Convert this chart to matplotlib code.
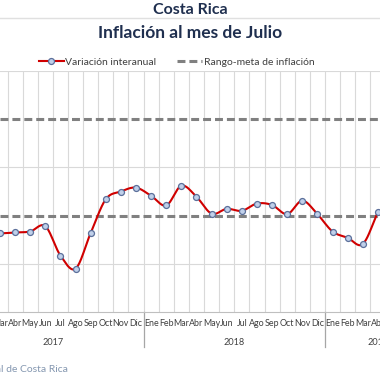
import numpy as np
import matplotlib
matplotlib.use("Agg")
import matplotlib.pyplot as plt
from matplotlib.lines import Line2D
import matplotlib.transforms as mtransforms

plt.rcParams['font.family'] = ['Lato', 'DejaVu Sans']

# months shown, from Mar 2017 to Abr 2019 (the rest is cut off in the picture)
months = ['Mar', 'Abr', 'May', 'Jun', 'Jul', 'Ago', 'Sep', 'Oct', 'Nov', 'Dic',
          'Ene', 'Feb', 'Mar', 'Abr', 'May', 'Jun', 'Jul', 'Ago', 'Sep', 'Oct', 'Nov', 'Dic',
          'Ene', 'Feb', 'Mar', 'Abr']
inflacion = [1.63, 1.65, 1.67, 1.78, 1.17, 0.90, 1.64, 2.34, 2.50, 2.58,
             2.41, 2.21, 2.62, 2.39, 2.04, 2.14, 2.10, 2.25, 2.22, 2.03, 2.31, 2.03,
             1.67, 1.54, 1.41, 2.07]
years = ['2017', '2018', '2019']
year_centers = [3.5, 15.5, 25.0]   # middle of each year's months (Ene 2017 = -2)
year_breaks = [9.5, 21.5]
meta_baja, meta_alta = 2.0, 4.0


def smooth(x, y, n=20):
    # Catmull-Rom style curve, like Excel's smoothed line
    x = np.asarray(x, float)
    y = np.asarray(y, float)
    px = np.concatenate([[2 * x[0] - x[1]], x, [2 * x[-1] - x[-2]]])
    py = np.concatenate([[2 * y[0] - y[1]], y, [2 * y[-1] - y[-2]]])
    xs, ys = [], []
    t = np.linspace(0, 1, n)
    for i in range(1, len(px) - 2):
        p0, p1, p2, p3 = (np.array([px[j], py[j]]) for j in range(i - 1, i + 3))
        c1 = p1 + (p2 - p0) / 6
        c2 = p2 - (p3 - p1) / 6
        pts = ((1 - t) ** 3)[:, None] * p1 + (3 * (1 - t) ** 2 * t)[:, None] * c1 \
            + (3 * (1 - t) * t ** 2)[:, None] * c2 + (t ** 3)[:, None] * p2
        xs.extend(pts[:, 0])
        ys.extend(pts[:, 1])
    return xs, ys


fig = plt.figure(figsize=(3.8, 3.8), dpi=100)
ax = fig.add_axes([0, 68 / 380, 1, 241 / 380])

xk = np.arange(len(months))
ax.set_xlim(0.426, 25.14)
ax.set_ylim(0, 5)

# grid
for b in np.arange(-0.5, 27):
    ax.axvline(b, color='#d9d9d9', lw=0.8, zorder=0)
for g in [1, 3, 5]:
    ax.axhline(g, color='#d9d9d9', lw=0.8, zorder=0)

ax.axhline(meta_alta, color='#808080', lw=2.2, dashes=(2.6, 1.3), zorder=1)
ax.axhline(meta_baja, color='#808080', lw=2.2, dashes=(2.6, 1.3), zorder=1)

sx, sy = smooth(xk, inflacion)
ax.plot(sx, sy, color='#d00000', lw=1.5, zorder=3)
ax.plot(xk, inflacion, ls='none', marker='o', ms=4.3, mfc='#c0d0ea', mec='#5b6f9a', mew=0.9, zorder=4)

for s in ['top', 'left', 'right']:
    ax.spines[s].set_visible(False)
ax.spines['bottom'].set_color('#bfbfbf')
ax.spines['bottom'].set_linewidth(0.8)
ax.set_yticks([])
ax.set_xticks(xk)
ax.set_xticklabels(months, fontsize=6.4, color='#404040')
ax.tick_params(axis='x', length=0, pad=5)

trans = mtransforms.blended_transform_factory(ax.transData, ax.transAxes)
for yl, c in zip(years, year_centers):
    ax.text(c, -0.125, yl, transform=trans, ha='center', va='center', fontsize=6.6, color='#404040')
for b in year_breaks:
    ax.plot([b, b], [0, -0.145], transform=trans, color='#a6a6a6', lw=0.9, clip_on=False)

# titles
fig.text(0.5, 1 - 10 / 380, 'Costa Rica', ha='center', va='center', fontsize=11.5,
         fontweight='bold', color='#1f2f4f')
fig.add_artist(Line2D([0, 1], [1 - 18 / 380, 1 - 18 / 380], color='#e0e0e0', lw=1))
fig.text(0.5, 1 - 33 / 380, 'Inflación al mes de Julio', ha='center', va='center', fontsize=12.5,
         fontweight='bold', color='#1f2f4f')

# legend
handles = [Line2D([], [], color='#d00000', lw=1.5, marker='o', ms=4.3, mfc='#c0d0ea', mec='#5b6f9a', mew=0.9),
           Line2D([], [], color='#808080', lw=2.2, dashes=(2.6, 1.3))]
fig.legend(handles, ['Variación interanual', 'Rango-meta de inflación'], loc='center',
           bbox_to_anchor=(0.465, 1 - 62 / 380), ncol=2, frameon=False, fontsize=7.5,
           handlelength=2.4, handletextpad=0.15, columnspacing=2.0, labelcolor='#404040')

fig.text(68 / 380, 1 - 370 / 380, 'Fuente: Banco Central de Costa Rica', ha='right', va='center',
         fontsize=7.5, color='#8497b0')

fig.savefig('out.png', dpi=100)
